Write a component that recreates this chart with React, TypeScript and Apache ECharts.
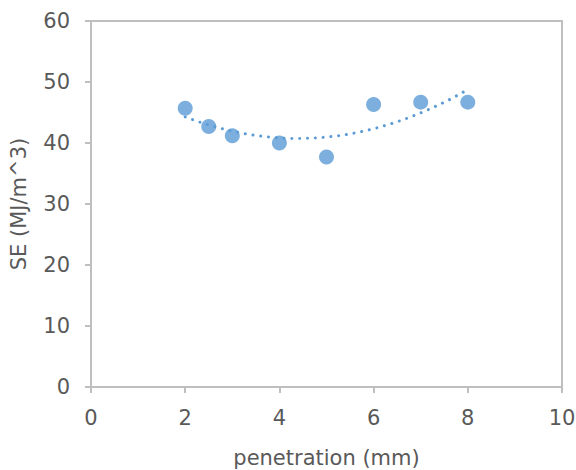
import React, { useEffect, useRef } from "react";
import * as echarts from "echarts";

const penetration = [2, 2.5, 3, 4, 5, 6, 7, 8];
const seValues = [45.7, 42.7, 41.2, 40.0, 37.7, 46.3, 46.7, 46.7];
const xTicks = { min: 0, max: 10, interval: 2 };
const yTicks = { min: 0, max: 60, interval: 10 };

// Order-2 polynomial trendline (least squares), as in the source chart
function quadFit(xs: number[], ys: number[]) {
  const n = xs.length;
  let s1 = 0, s2 = 0, s3 = 0, s4 = 0, t0 = 0, t1 = 0, t2 = 0;
  for (let i = 0; i < n; i++) {
    const x = xs[i], y = ys[i];
    s1 += x; s2 += x * x; s3 += x * x * x; s4 += x * x * x * x;
    t0 += y; t1 += x * y; t2 += x * x * y;
  }
  const A = [
    [n, s1, s2, t0],
    [s1, s2, s3, t1],
    [s2, s3, s4, t2],
  ];
  for (let i = 0; i < 3; i++) {
    for (let k = i + 1; k < 3; k++) {
      const f = A[k][i] / A[i][i];
      for (let j = i; j < 4; j++) A[k][j] -= f * A[i][j];
    }
  }
  const c = [0, 0, 0];
  for (let i = 2; i >= 0; i--) {
    let s = A[i][3];
    for (let j = i + 1; j < 3; j++) s -= A[i][j] * c[j];
    c[i] = s / A[i][i];
  }
  return c;
}

export default function App() {
  const ref = useRef<HTMLDivElement>(null);
  useEffect(() => {
    if (!ref.current) return;
    const chart = echarts.init(ref.current, null, { renderer: "svg" });
    const [c0, c1, c2] = quadFit(penetration, seValues);
    const xa = penetration[0];
    const xb = penetration[penetration.length - 1];
    const trend: number[][] = [];
    const steps = 60;
    for (let i = 0; i <= steps; i++) {
      const x = xa + ((xb - xa) * i) / steps;
      trend.push([x, c0 + c1 * x + c2 * x * x]);
    }
    const font = "DejaVu Sans";
    const txt = "#595959";
    const axisCol = "#bfbfbf";
    chart.setOption({
      animation: false,
      backgroundColor: "#ffffff",
      grid: {
        left: 91,
        right: 14,
        top: 21,
        bottom: 83,
        show: true,
        borderColor: axisCol,
        borderWidth: 2,
        containLabel: false,
        outerBoundsMode: "none",
      },
      xAxis: {
        type: "value",
        min: xTicks.min,
        max: xTicks.max,
        interval: xTicks.interval,
        name: "penetration (mm)",
        nameLocation: "middle",
        nameGap: 60,
        nameTextStyle: { color: txt, fontFamily: font, fontSize: 21 },
        axisLine: { show: true, onZero: false, lineStyle: { color: axisCol, width: 2 } },
        axisTick: { show: true, inside: false, length: 6, lineStyle: { color: axisCol, width: 2 } },
        axisLabel: { color: txt, fontFamily: font, fontSize: 21, margin: 20 },
        splitLine: { show: false },
      },
      yAxis: {
        type: "value",
        min: yTicks.min,
        max: yTicks.max,
        interval: yTicks.interval,
        name: "SE (MJ/m^3)",
        nameLocation: "middle",
        nameGap: 62,
        nameTextStyle: { color: txt, fontFamily: font, fontSize: 21 },
        axisLine: { show: true, onZero: false, lineStyle: { color: axisCol, width: 2 } },
        axisTick: { show: true, inside: false, length: 6, lineStyle: { color: axisCol, width: 2 } },
        axisLabel: { color: txt, fontFamily: font, fontSize: 21, margin: 21 },
        splitLine: { show: false },
      },
      series: [
        {
          type: "scatter",
          data: penetration.map((x, i) => [x, seValues[i]]),
          symbol: "circle",
          symbolSize: 15,
          itemStyle: { color: "#5b9bd5" },
          z: 2,
        },
        {
          type: "line",
          data: trend,
          showSymbol: false,
          symbol: "none",
          smooth: false,
          lineStyle: { color: "#5b9bd5", width: 3, type: [0.01, 7.8], cap: "round" },
          z: 3,
          silent: true,
        },
      ],
    });
    return () => chart.dispose();
  }, []);
  return <div ref={ref} style={{ width: 576, height: 470, position: "absolute", left: 0, top: 0 }} />;
}
